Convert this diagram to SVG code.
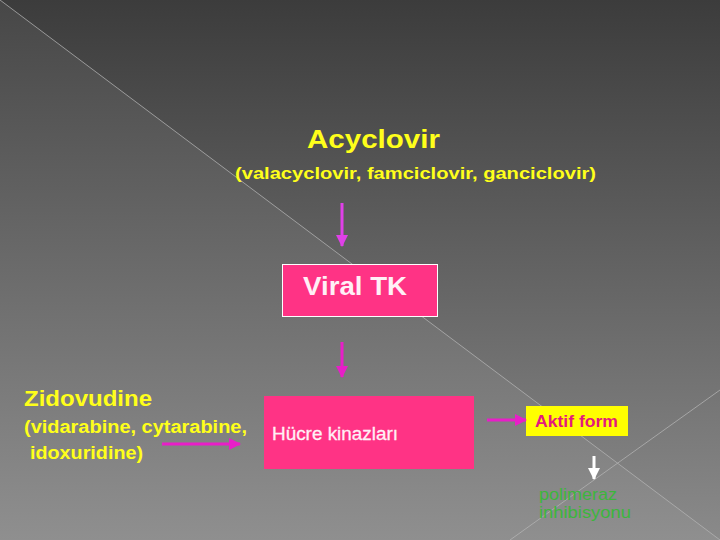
<svg xmlns="http://www.w3.org/2000/svg" width="720" height="540" viewBox="0 0 720 540">
  <defs>
    <linearGradient id="bgUpper" x1="0" y1="0" x2="0" y2="540" gradientUnits="userSpaceOnUse">
      <stop offset="0" stop-color="#3c3c3c"/>
      <stop offset="1" stop-color="#8a8a8a"/>
    </linearGradient>
    <linearGradient id="bgLower" x1="0" y1="0" x2="0" y2="540" gradientUnits="userSpaceOnUse">
      <stop offset="0" stop-color="#474747"/>
      <stop offset="1" stop-color="#8f8f8f"/>
    </linearGradient>
    <marker id="headPurple" viewBox="0 0 12 12" refX="11" refY="6" markerWidth="4" markerHeight="4" orient="auto" markerUnits="strokeWidth">
      <path d="M0,0 L12,6 L0,12 Z" fill="#e040e8"/>
    </marker>
    <marker id="headMagenta" viewBox="0 0 12 12" refX="11" refY="6" markerWidth="4" markerHeight="4" orient="auto" markerUnits="strokeWidth">
      <path d="M0,0 L12,6 L0,12 Z" fill="#e81ec8"/>
    </marker>
    <marker id="headWhite" viewBox="0 0 12 12" refX="11" refY="6" markerWidth="4" markerHeight="4" orient="auto" markerUnits="strokeWidth">
      <path d="M0,0 L12,6 L0,12 Z" fill="#ffffff"/>
    </marker>
  </defs>
  <style>
    .yellow { fill: #ffff1a; font-family: "Liberation Sans", Arial, sans-serif; font-weight: bold; }
    .box { fill: #ff3385; }
    .boxText { fill: #fff0f6; font-family: "Liberation Sans", Arial, sans-serif; }
    .green { fill: #3cb63c; font-family: "Liberation Sans", Arial, sans-serif; font-size: 17px; }
    .deco { stroke: #b4b4b4; stroke-width: 1; stroke-opacity: 0.75; fill: none; }
    .conn { fill: none; stroke-width: 3; }
  </style>

  <!-- background -->
  <rect x="0" y="0" width="720" height="540" fill="url(#bgUpper)"/>
  <polygon points="0,0 720,540 0,540" fill="url(#bgLower)"/>
  <line class="deco" x1="0" y1="0" x2="720" y2="540"/>
  <line class="deco" x1="720" y1="390" x2="510" y2="540"/>

  <g id="acyclovir">
    <text class="yellow" x="307" y="148" font-size="26" textLength="133" lengthAdjust="spacingAndGlyphs">Acyclovir</text>
    <text class="yellow" x="235" y="179" font-size="17" textLength="361" lengthAdjust="spacingAndGlyphs">(valacyclovir, famciclovir, ganciclovir)</text>
  </g>

  <g id="viral-tk">
    <rect class="box" x="282.5" y="264.5" width="155" height="52" stroke="#ffffff" stroke-width="1"/>
    <text class="boxText" x="303" y="295" font-size="25" font-weight="bold" textLength="104" lengthAdjust="spacingAndGlyphs">Viral TK</text>
  </g>

  <g id="zidovudine">
    <text class="yellow" x="24" y="406" font-size="22" textLength="128" lengthAdjust="spacingAndGlyphs">Zidovudine</text>
    <text class="yellow" x="24" y="433" font-size="18" textLength="223" lengthAdjust="spacingAndGlyphs">(vidarabine, cytarabine,</text>
    <text class="yellow" x="30" y="459" font-size="18" textLength="113" lengthAdjust="spacingAndGlyphs">idoxuridine)</text>
  </g>

  <g id="hucre-kinazlari">
    <rect class="box" x="264" y="396" width="210" height="73"/>
    <text class="boxText" x="272" y="440" font-size="18" textLength="126" lengthAdjust="spacingAndGlyphs" stroke="#fff0f6" stroke-width="0.3">Hücre kinazları</text>
  </g>

  <g id="aktif-form">
    <rect x="526" y="406" width="102" height="30" fill="#ffff00"/>
    <text x="535" y="427" font-family="Liberation Sans, Arial, sans-serif" font-size="17" font-weight="bold" fill="#e3197d" textLength="83" lengthAdjust="spacingAndGlyphs">Aktif form</text>
  </g>

  <g id="polimeraz-inhibisyonu">
    <text class="green" x="539" y="500" textLength="78" lengthAdjust="spacingAndGlyphs">polimeraz</text>
    <text class="green" x="539" y="518" textLength="92" lengthAdjust="spacingAndGlyphs">inhibisyonu</text>
  </g>

  <g id="connectors">
    <path class="conn" d="M342,203 L342,246" stroke="#e040e8" marker-end="url(#headPurple)"/>
    <path class="conn" d="M342,342 L342,377" stroke="#e81ec8" marker-end="url(#headMagenta)"/>
    <path class="conn" d="M162,444 L240,444" stroke="#e81ec8" marker-end="url(#headMagenta)"/>
    <path class="conn" d="M487,420 L526,420" stroke="#e81ec8" marker-end="url(#headMagenta)"/>
    <path class="conn" d="M594,456 L594,479" stroke="#ffffff" marker-end="url(#headWhite)"/>
  </g>
</svg>
